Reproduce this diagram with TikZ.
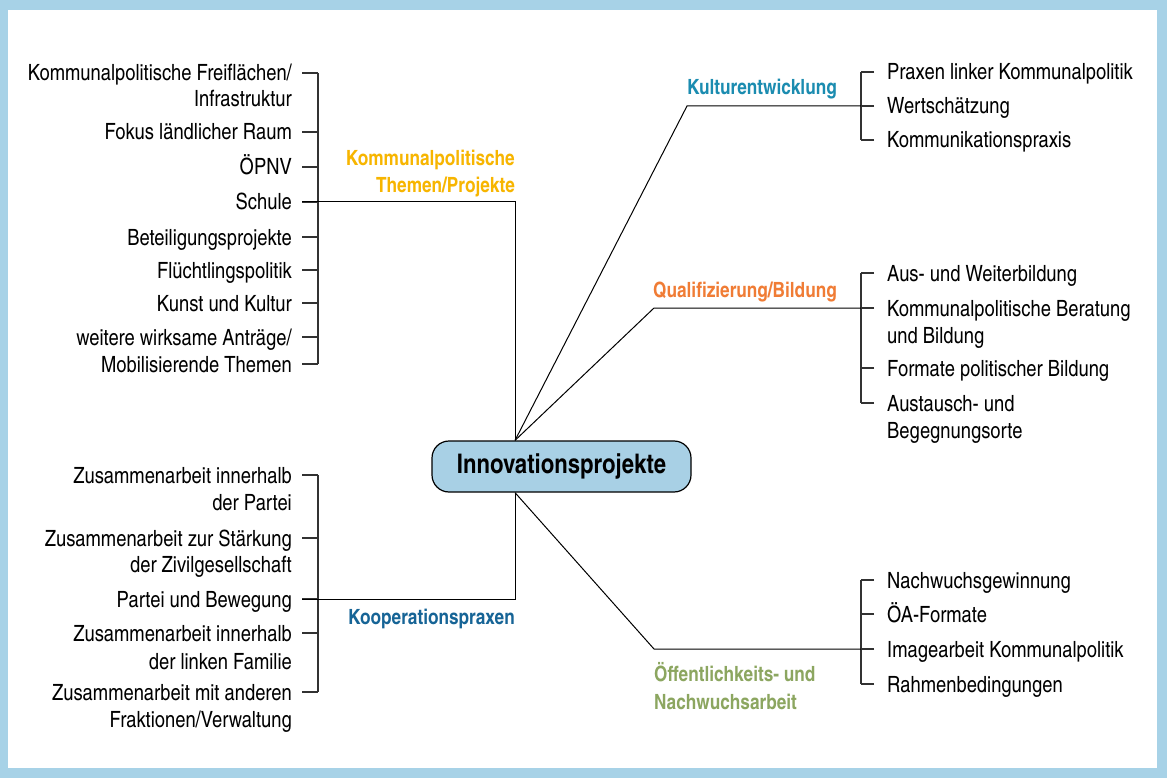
\documentclass[tikz,border=0pt]{standalone}
\usepackage{fontspec}
\setmainfont{texgyreheroscn}[Extension=.otf, UprightFont=*-regular, BoldFont=*-bold, ItalicFont=*-italic, BoldItalicFont=*-bolditalic]
\definecolor{framebl}{RGB}{167,210,231}
\definecolor{hubfill}{RGB}{168,208,229}
\definecolor{kulcol}{RGB}{27,140,176}
\definecolor{themcol}{RGB}{247,181,0}
\definecolor{qualcol}{RGB}{240,124,53}
\definecolor{koopcol}{RGB}{22,100,150}
\definecolor{oeffcol}{RGB}{140,166,96}
\definecolor{brkgray}{RGB}{50,50,50}
\begin{document}
\begin{tikzpicture}[x=1pt,y=-1pt,
  item/.style={font=\fontsize{22.4}{26}\selectfont, inner sep=0pt, text height=16pt, text depth=0pt},
  cat/.style={item, font=\fontsize{21}{25}\selectfont\bfseries, text height=15pt},
  brk/.style={draw=brkgray, line width=1.4pt},
  conn/.style={draw=black, line width=1pt},
  hubbox/.style={draw=black, line width=1.2pt, fill=hubfill, rounded corners=17pt,
    minimum width=259pt, minimum height=51pt, inner sep=0pt,
    font=\fontsize{27}{31}\selectfont\bfseries}]
\useasboundingbox (0,0) rectangle (1167,778);
\fill[framebl] (0,0) rectangle (1167,778);
\fill[white] (8,10) rectangle (1157,768);

% left top group
\node[item, anchor=east] (k1) at (292,73) {Kommunalpolitische Freiflächen/};
\node[item, anchor=east] (k1b) at (292,99) {Infrastruktur};
\node[item, anchor=east] (k2) at (292,132) {Fokus ländlicher Raum};
\node[item, anchor=east] (k3) at (292,167) {ÖPNV};
\node[item, anchor=east] (k4) at (292,202) {Schule};
\node[item, anchor=east] (k5) at (292,237) {Beteiligungsprojekte};
\node[item, anchor=east] (k6) at (292,270) {Flüchtlingspolitik};
\node[item, anchor=east] (k7) at (292,303) {Kunst und Kultur};
\node[item, anchor=east] (k8) at (292,337) {weitere wirksame Anträge/};
\node[item, anchor=east] (k8b) at (292,364) {Mobilisierende Themen};
\foreach \n in {k1,k2,k3,k4,k5,k6,k7,k8,k8b}
  \draw[brk] ([xshift=10pt]\n.east) -- ([xshift=26pt]\n.east);
\draw[brk] ([xshift=26pt]k1.east) -- ([xshift=26pt]k8b.east);

% left bottom group
\node[item, anchor=east] (z1) at (292,475) {Zusammenarbeit innerhalb};
\node[item, anchor=east] (z1b) at (292,502) {der Partei};
\node[item, anchor=east] (z2) at (292,538) {Zusammenarbeit zur Stärkung};
\node[item, anchor=east] (z2b) at (292,564) {der Zivilgesellschaft};
\node[item, anchor=east] (z3) at (292,599) {Partei und Bewegung};
\node[item, anchor=east] (z4) at (292,633) {Zusammenarbeit innerhalb};
\node[item, anchor=east] (z4b) at (292,661) {der linken Familie};
\node[item, anchor=east] (z5) at (292,692) {Zusammenarbeit mit anderen};
\node[item, anchor=east] (z5b) at (292,719) {Fraktionen/Verwaltung};
\foreach \n in {z1,z2,z3,z4,z5}
  \draw[brk] ([xshift=10pt]\n.east) -- ([xshift=26pt]\n.east);
\draw[brk] ([xshift=26pt]z1.east) -- ([xshift=26pt]z5.east);

% right groups
\node[item, anchor=west] (r1) at (887,72) {Praxen linker Kommunalpolitik};
\node[item, anchor=west] (r2) at (887,106) {Wertschätzung};
\node[item, anchor=west] (r3) at (887,140) {Kommunikationspraxis};
\foreach \n in {r1,r2,r3}
  \draw[brk] ([xshift=-13pt]\n.west) -- ([xshift=-26pt]\n.west);
\draw[brk] ([xshift=-26pt]r1.west) -- ([xshift=-26pt]r3.west);

\node[item, anchor=west] (q1) at (887,273) {Aus- und Weiterbildung};
\node[item, anchor=west] (q2) at (887,308) {Kommunalpolitische Beratung};
\node[item, anchor=west] (q2b) at (887,335) {und Bildung};
\node[item, anchor=west] (q3) at (887,368) {Formate politischer Bildung};
\node[item, anchor=west] (q4) at (887,403) {Austausch- und};
\node[item, anchor=west] (q4b) at (887,430) {Begegnungsorte};
\foreach \n in {q1,q2,q3,q4}
  \draw[brk] ([xshift=-13pt]\n.west) -- ([xshift=-26pt]\n.west);
\draw[brk] ([xshift=-26pt]q1.west) -- ([xshift=-26pt]q4.west);

\node[item, anchor=west] (o1) at (887,580) {Nachwuchsgewinnung};
\node[item, anchor=west] (o2) at (887,614) {ÖA-Formate};
\node[item, anchor=west] (o3) at (887,649) {Imagearbeit Kommunalpolitik};
\node[item, anchor=west] (o4) at (887,684) {Rahmenbedingungen};
\foreach \n in {o1,o2,o3,o4}
  \draw[brk] ([xshift=-13pt]\n.west) -- ([xshift=-26pt]\n.west);
\draw[brk] ([xshift=-26pt]o1.west) -- ([xshift=-26pt]o4.west);

% category labels
\node[cat, anchor=east, text=themcol] (t1) at (515,158) {Kommunalpolitische};
\node[cat, anchor=east, text=themcol] (t1b) at (515,185) {Themen/Projekte};
\node[cat, anchor=east, text=kulcol] (t2) at (837,87) {Kulturentwicklung};
\node[cat, anchor=east, text=qualcol] (t3) at (837,290) {Qualifizierung/Bildung};
\node[cat, anchor=east, text=koopcol] (t4) at (515,617) {Kooperationspraxen};
\node[cat, anchor=west, text=oeffcol] (t5) at (654,674) {Öffentlichkeits- und};
\node[cat, anchor=west, text=oeffcol] (t5b) at (654,702) {Nachwuchsarbeit};

% hub
\node[hubbox] (center) at (561.5,466.5) {Innovationsprojekte};
\coordinate (hub) at (515,466);
\coordinate (kc) at (687,106);
\coordinate (qc) at (654,308);
\coordinate (oc) at (654,649);

\draw[conn] ([xshift=10pt]k4.east) -| (center.north -| hub);
\draw[conn] (center.north -| hub) -- (kc) -- ([xshift=-26pt]r2.west);
\draw[conn] (center.north -| hub) -- (qc) -- ([xshift=-26pt]q2.west);
\draw[conn] (center.south -| hub) -- (oc) -- ([xshift=-26pt]o3.west);
\draw[conn] (center.south -| hub) |- ([xshift=10pt]z3.east);
\end{tikzpicture}
\end{document}
